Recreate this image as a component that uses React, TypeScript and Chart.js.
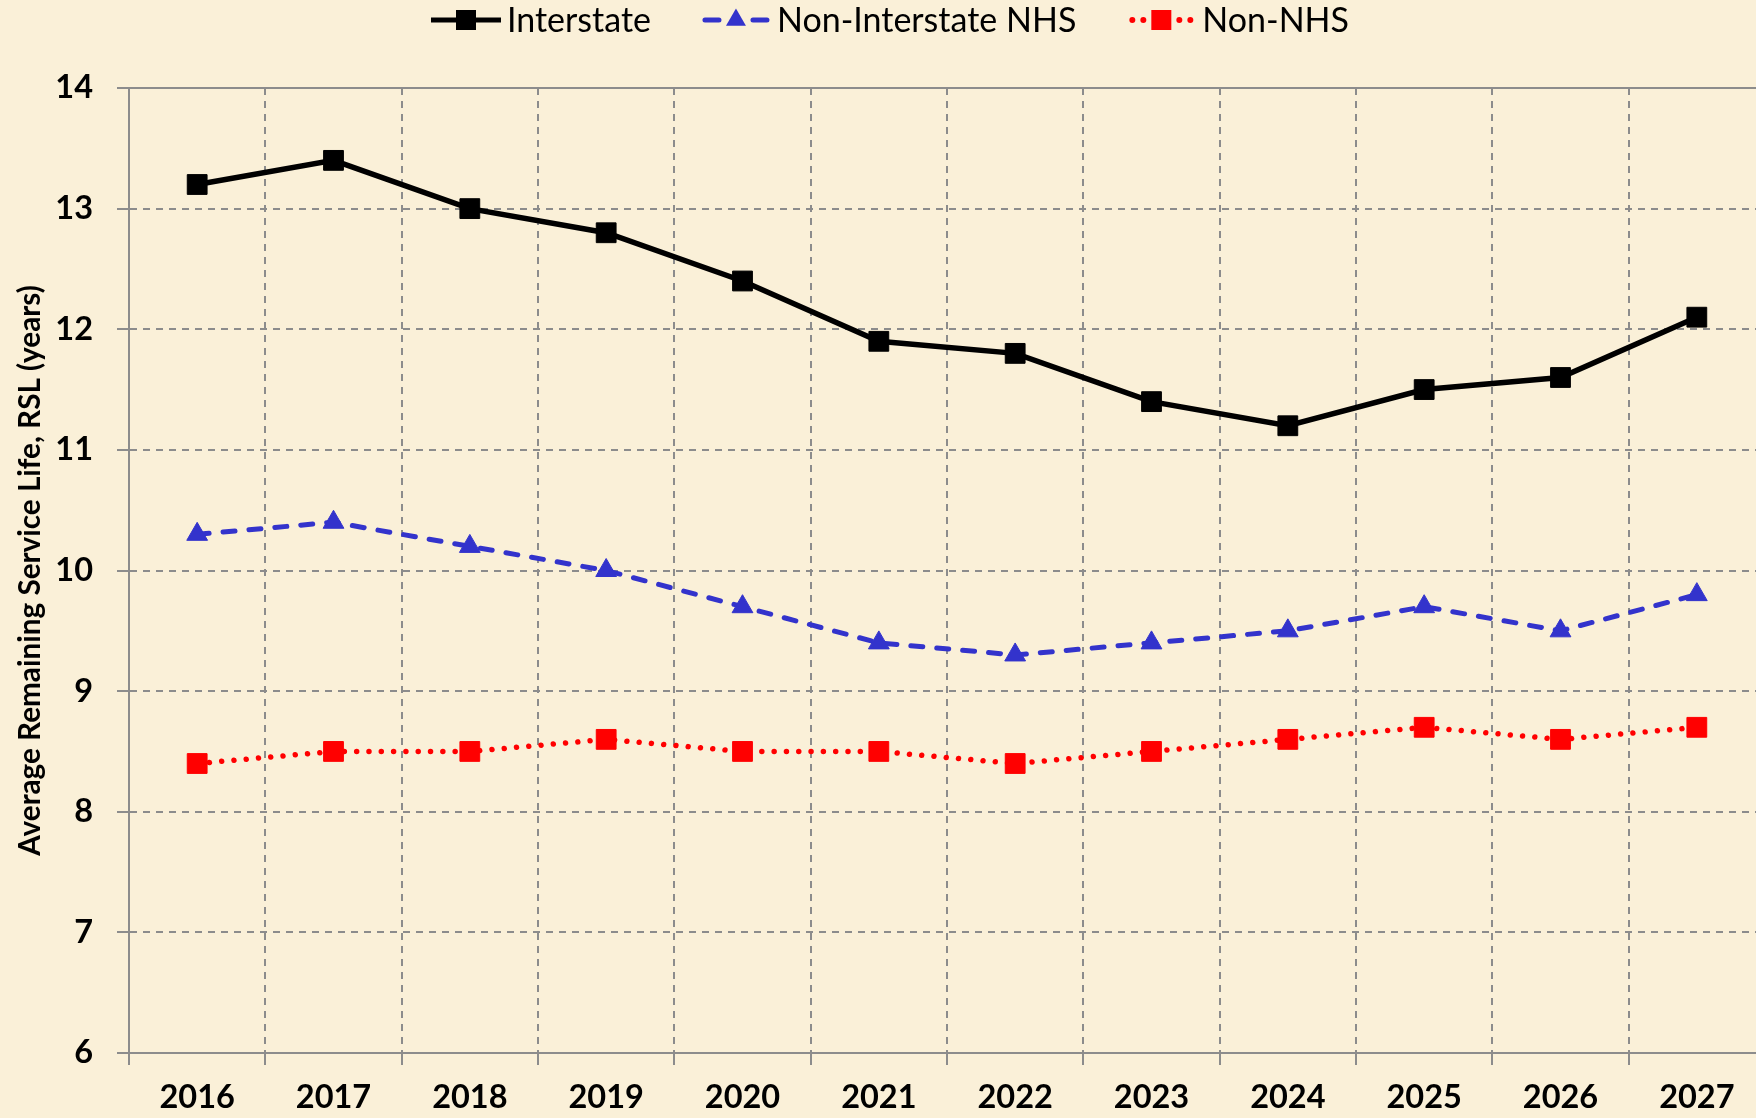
import React, { useEffect, useRef } from 'react';
import { Chart, registerables } from 'chart.js';

Chart.register(...registerables);

const years = ['2016', '2017', '2018', '2019', '2020', '2021', '2022', '2023', '2024', '2025', '2026', '2027'];
const interstate = [13.2, 13.4, 13.0, 12.8, 12.4, 11.9, 11.8, 11.4, 11.2, 11.5, 11.6, 12.1];
const nonInterstateNHS = [10.3, 10.4, 10.2, 10.0, 9.7, 9.4, 9.3, 9.4, 9.5, 9.7, 9.5, 9.8];
const nonNHS = [8.4, 8.5, 8.5, 8.6, 8.5, 8.5, 8.4, 8.5, 8.6, 8.7, 8.6, 8.7];
const yMin = 6;
const yMax = 14;
const yStep = 1;
const yTitle = 'Average Remaining Service Life, RSL (years)';

const GRID = '#8c8c8c';
const tickFont = { family: 'Lato', weight: 'bold' as const, size: 32.5 };

function drawIcon(ctx: CanvasRenderingContext2D, idx: number, color: string, x: number, y: number) {
  ctx.save();
  ctx.strokeStyle = color;
  ctx.fillStyle = color;
  ctx.lineWidth = 5;
  const cx = x + 35;
  if (idx === 0) {
    ctx.lineCap = 'butt';
    ctx.beginPath();
    ctx.moveTo(x, y);
    ctx.lineTo(x + 70, y);
    ctx.stroke();
    ctx.fillRect(cx - 10, y - 10, 20, 20);
  } else if (idx === 1) {
    ctx.lineCap = 'round';
    ctx.beginPath();
    ctx.moveTo(x + 4, y);
    ctx.lineTo(x + 18, y);
    ctx.moveTo(x + 52, y);
    ctx.lineTo(x + 66, y);
    ctx.stroke();
    const r = 11.5;
    ctx.beginPath();
    ctx.moveTo(cx, y - r);
    ctx.lineTo(cx + r * Math.sin((2 * Math.PI) / 3), y - r * Math.cos((2 * Math.PI) / 3));
    ctx.lineTo(cx + r * Math.sin((4 * Math.PI) / 3), y - r * Math.cos((4 * Math.PI) / 3));
    ctx.closePath();
    ctx.fill();
  } else {
    [6, 17, 53, 64].forEach((dx) => {
      ctx.beginPath();
      ctx.arc(x + dx, y, 3, 0, Math.PI * 2);
      ctx.fill();
    });
    ctx.fillRect(cx - 10, y - 10, 20, 20);
  }
  ctx.restore();
}

const legendPlugin = {
  id: 'excelLegend',
  afterDraw(chart: any) {
    const ctx: CanvasRenderingContext2D = chart.ctx;
    ctx.save();
    ctx.font = '34px Lato';
    ctx.textBaseline = 'middle';
    ctx.textAlign = 'left';
    const iconW = 70;
    const gapIcon = 6;
    const gapItem = 50;
    const items = chart.data.datasets.map((ds: any) => ({
      label: ds.label as string,
      color: ds.borderColor as string,
      tw: ctx.measureText(ds.label).width,
    }));
    const total =
      items.reduce((s: number, it: any) => s + iconW + gapIcon + it.tw, 0) + gapItem * (items.length - 1);
    let x = 890 - total / 2;
    const y = 20;
    items.forEach((it: any, i: number) => {
      drawIcon(ctx, i, it.color, x, y);
      ctx.fillStyle = '#000';
      ctx.fillText(it.label, x + iconW + gapIcon, y + 1);
      x += iconW + gapIcon + it.tw + gapItem;
    });
    ctx.restore();
  },
};

export default function App() {
  const ref = useRef<HTMLCanvasElement | null>(null);

  useEffect(() => {
    if (!ref.current) return;
    const chart = new Chart(ref.current, {
      type: 'line',
      data: {
        labels: years,
        datasets: [
          {
            label: 'Interstate',
            data: interstate,
            borderColor: '#000000',
            backgroundColor: '#000000',
            borderWidth: 5.5,
            pointStyle: 'rect',
            pointRadius: 14,
            pointBorderWidth: 1,
            pointBackgroundColor: '#000000',
            pointBorderColor: '#000000',
            tension: 0,
          },
          {
            label: 'Non-Interstate NHS',
            data: nonInterstateNHS,
            borderColor: '#3333CC',
            backgroundColor: '#3333CC',
            borderWidth: 5,
            borderDash: [12, 14],
            borderCapStyle: 'round',
            pointStyle: 'triangle',
            pointRadius: 12,
            pointBorderWidth: 1,
            pointBackgroundColor: '#3333CC',
            pointBorderColor: '#3333CC',
            tension: 0,
          },
          {
            label: 'Non-NHS',
            data: nonNHS,
            borderColor: '#FF0000',
            backgroundColor: '#FF0000',
            borderWidth: 5.5,
            borderDash: [0.01, 12.3],
            borderCapStyle: 'round',
            pointStyle: 'rect',
            pointRadius: 14,
            pointBorderWidth: 1,
            pointBackgroundColor: '#FF0000',
            pointBorderColor: '#FF0000',
            tension: 0,
          },
        ],
      },
      options: {
        animation: false,
        responsive: false,
        maintainAspectRatio: false,
        layout: { padding: { top: 88, right: 6, left: 0, bottom: 0 } },
        plugins: {
          legend: { display: false },
          tooltip: { enabled: false },
        },
        scales: {
          x: {
            type: 'category',
            position: 'bottom',
            offset: true,
            grid: { offset: true, color: GRID, lineWidth: 2, tickLength: 12, tickColor: GRID },
            border: { color: GRID, width: 2, dash: [7, 6] },
            ticks: { font: tickFont, color: '#000', padding: 13, maxRotation: 0, autoSkip: false },
            afterFit: (s: any) => {
              s.height = 65;
            },
          },
          x2: {
            type: 'category',
            position: 'top',
            offset: true,
            grid: { display: false },
            border: { display: true, color: GRID, width: 2 },
            ticks: { display: false },
            afterFit: (s: any) => {
              s.height = 0;
            },
          },
          y: {
            min: yMin,
            max: yMax,
            ticks: { stepSize: yStep, font: tickFont, color: '#000', padding: 24 },
            grid: { color: GRID, lineWidth: 2, tickLength: 12, tickColor: GRID },
            border: { color: GRID, width: 2, dash: [7, 6] },
            title: {
              display: true,
              text: yTitle,
              color: '#000',
              font: { family: 'Lato', weight: 'bold', size: 29.7 },
              padding: { top: 13, bottom: 0 },
            },
            afterFit: (s: any) => {
              s.width = 129;
            },
          },
        },
      } as any,
      plugins: [legendPlugin],
    });
    return () => chart.destroy();
  }, []);

  return (
    <div
      style={{
        position: 'fixed',
        left: 0,
        top: 0,
        width: 1756,
        height: 1118,
        overflow: 'hidden',
        background: '#FAF0D8',
      }}
    >
      <canvas ref={ref} width={1780} height={1118} style={{ display: 'block', width: 1780, height: 1118 }} />
    </div>
  );
}
